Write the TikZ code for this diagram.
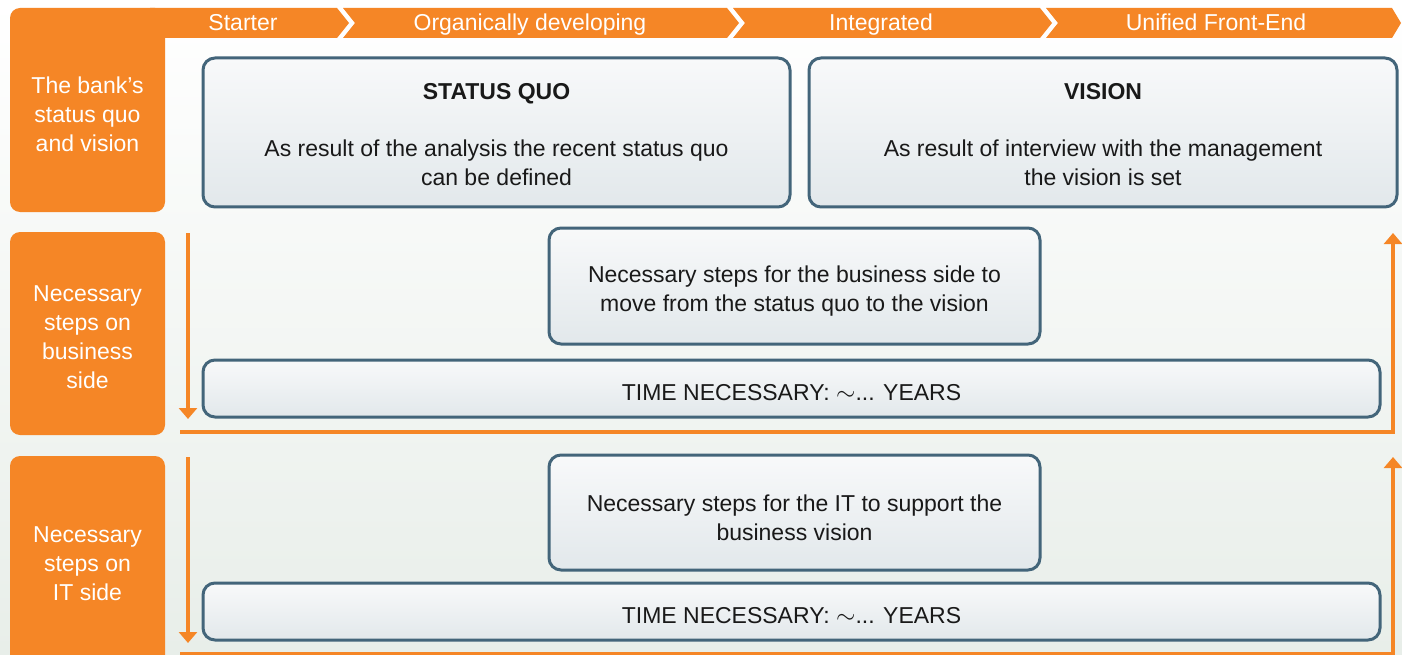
\documentclass[tikz,border=0pt]{standalone}
\usepackage{fontspec}
\setmainfont{Liberation Sans}
\usetikzlibrary{positioning}
\usetikzlibrary{arrows.meta}

\definecolor{bankorange}{RGB}{245,134,38}
\definecolor{boxline}{RGB}{67,101,122}
\definecolor{boxtop}{RGB}{248,249,250}
\definecolor{boxbottom}{RGB}{226,232,235}
\definecolor{bgbottom}{RGB}{232,238,233}
\definecolor{txt}{RGB}{25,25,25}

\begin{document}
\begin{tikzpicture}[x=1pt,y=-1pt,
	rowlabel/.style={rectangle, rounded corners=10pt, fill=bankorange, inner sep=0pt, minimum width=155pt},
	labeltext/.style={text=white, align=center, inner sep=0pt, font=\fontsize{23}{29}\selectfont},
	infobox/.style={rectangle, rounded corners=12pt, draw=boxline, line width=3pt, top color=boxtop, bottom color=boxbottom, inner sep=0pt},
	boxtext/.style={text=txt, align=center, inner sep=0pt, font=\fontsize{23}{29}\selectfont},
	phase/.style={text=white, anchor=base, inner sep=0pt, font=\fontsize{23}{29}\selectfont},
	flow/.style={draw=bankorange, line width=4.5pt, -{Triangle[width=18pt,length=11pt]}}]
	\useasboundingbox (0,0) rectangle (1402,655);
	\clip (0,0) rectangle (1402,655);
	\shade[top color=white, bottom color=bgbottom] (0,0) rectangle (1402,655);

	% phase banner
	\fill[bankorange] (150,8) -- (337,8) -- (349,23) -- (337,38) -- (150,38) -- cycle;
	\foreach \a/\b/\t in {343/727/12, 733/1040/12, 1046/1392/9}
		\fill[bankorange] (\a,8) -- (\b,8) -- (\b+\t,23) -- (\b,38) -- (\a,38) -- (\a+12,23) -- cycle;
	\node[phase] (starter) at (243,31) {Starter};
	\node[phase] (organic) at (530,31) {Organically developing};
	\node[phase] (integrated) at (881,31) {Integrated};
	\node[phase] (unified) at (1216,31) {Unified Front-End};

	% row labels
	\node[rowlabel, minimum height=204pt] (lblvision) at (87.5,110) {};
	\node[labeltext] (lblvisiontext) at ([yshift=-4pt]lblvision.center) {The bank’s\\status quo\\and vision};
	\node[rowlabel, minimum height=203pt] (lblbusiness) at (87.5,333.5) {};
	\node[labeltext] (lblbusinesstext) at ([yshift=-4pt]lblbusiness.center) {Necessary\\steps on\\business\\side};
	\node[rowlabel, minimum height=209pt] (lblit) at (87.5,560.5) {};
	\node[labeltext] (lblittext) at ([yshift=-3pt]lblit.center) {Necessary\\steps on\\IT side};

	% status quo and vision
	\node[infobox, minimum width=587pt, minimum height=149pt] (statusquo) at (496.5,132.5) {};
	\node[boxtext] (statusquotext) at ([yshift=-2pt]statusquo.center) {\textbf{STATUS QUO}\\[28pt]As result of the analysis the recent status quo\\can be defined};
	\node[infobox, minimum width=588pt, minimum height=149pt] (vision) at (1103,132.5) {};
	\node[boxtext] (visiontext) at ([yshift=-2pt]vision.center) {\textbf{VISION}\\[28pt]As result of interview with the management\\the vision is set};

	% business side
	\node[infobox, minimum width=491pt, minimum height=116pt] (busisteps) at (794.5,286) {};
	\node[boxtext] (busistepstext) at ([yshift=-5pt]busisteps.center) {Necessary steps for the business side to\\move from the status quo to the vision};
	\node[infobox, minimum width=1177pt, minimum height=57pt] (busitime) at (791.5,388.5) {};
	\node[boxtext] (busitimetext) at ([yshift=-4pt]busitime.center) {TIME NECESSARY: $\sim$... YEARS};
	\coordinate (busidowntop) at (188,233);
	\coordinate (busidownend) at (188,419);
	\coordinate (busiback) at (180,432);
	\coordinate (busicorner) at (1393,432);
	\coordinate (busiup) at (1393,233);
	\draw[flow] (busidowntop) -- (busidownend);
	\draw[flow] (busiback) -- (busicorner) -- (busiup);

	% IT side
	\node[infobox, minimum width=491pt, minimum height=115pt] (itsteps) at (794.5,512.5) {};
	\node[boxtext] (itstepstext) at ([yshift=-5pt]itsteps.center) {Necessary steps for the IT to support the\\business vision};
	\node[infobox, minimum width=1177pt, minimum height=57pt] (ittime) at (791.5,611.5) {};
	\node[boxtext] (ittimetext) at ([yshift=-4pt]ittime.center) {TIME NECESSARY: $\sim$... YEARS};
	\coordinate (itdowntop) at (188,457);
	\coordinate (itdownend) at (188,643);
	\coordinate (itback) at (180,654);
	\coordinate (itcorner) at (1393,654);
	\coordinate (itup) at (1393,457);
	\draw[flow] (itdowntop) -- (itdownend);
	\draw[flow] (itback) -- (itcorner) -- (itup);
\end{tikzpicture}
\end{document}
